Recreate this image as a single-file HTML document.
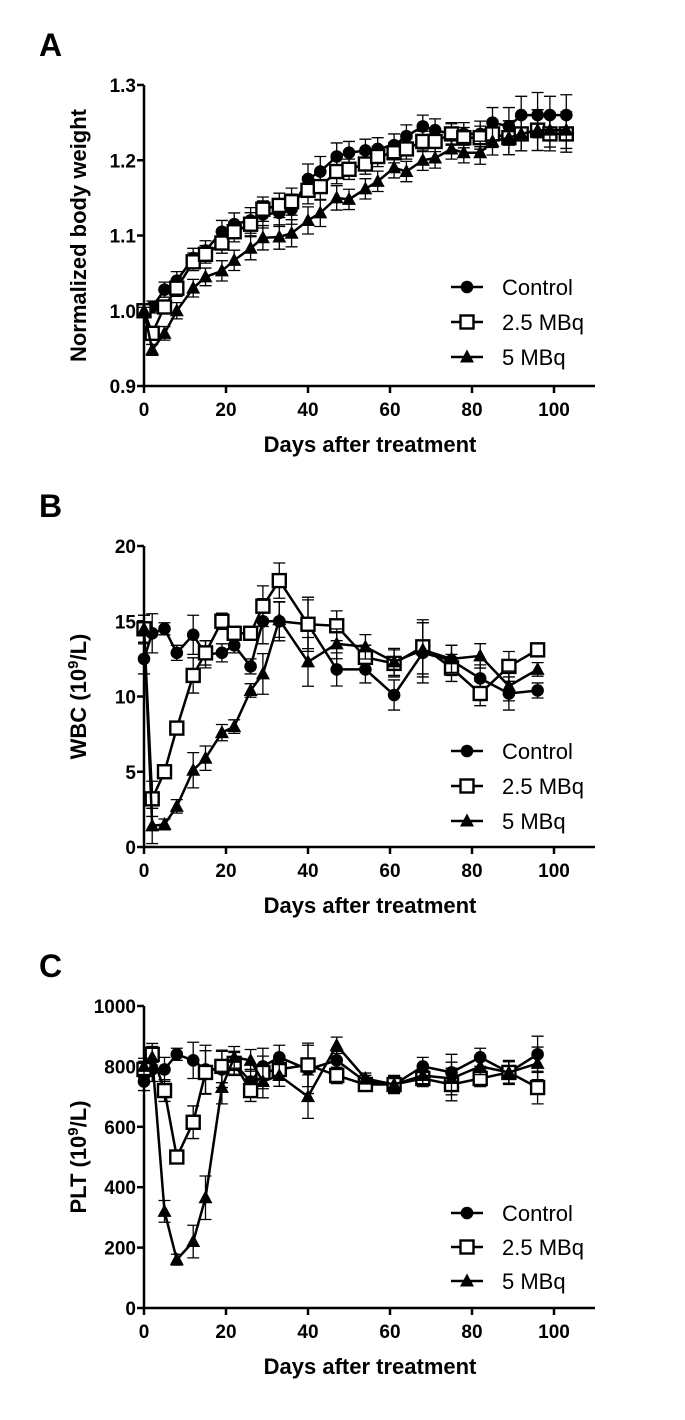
<!DOCTYPE html>
<html><head><meta charset="utf-8">
<style>
html,body{margin:0;padding:0;background:#fff;}
svg{display:block;font-family:"Liberation Sans",Arial,sans-serif;}
</style></head>
<body>
<svg id="fig" width="685" height="1420" viewBox="0 0 685 1420" xmlns="http://www.w3.org/2000/svg"></svg>
<script>
// ---- Panel A data ----
const daysA = [0,2,5,8,12,15,19,22,26,29,33,36,40,43,47,50,54,57,61,64,68,71,75,78,82,85,89,92,96,99,103];
const ctrlA = [1.0,1.005,1.028,1.04,1.07,1.08,1.105,1.115,1.12,1.128,1.13,1.135,1.175,1.185,1.205,1.21,1.213,1.215,1.22,1.232,1.245,1.24,1.235,1.235,1.235,1.25,1.245,1.26,1.26,1.26,1.26];
const midA  = [1.0,0.97,1.005,1.03,1.065,1.075,1.09,1.105,1.115,1.135,1.14,1.145,1.16,1.165,1.185,1.188,1.195,1.205,1.21,1.215,1.225,1.225,1.235,1.23,1.23,1.235,1.23,1.235,1.24,1.235,1.235];
const highA = [1.0,0.948,0.97,1.0,1.03,1.045,1.053,1.067,1.083,1.097,1.098,1.103,1.12,1.13,1.15,1.148,1.162,1.172,1.19,1.185,1.2,1.203,1.215,1.21,1.21,1.225,1.23,1.235,1.24,1.24,1.24];
const errA = [0.005,0.008,0.01,0.012,0.013,0.013,0.015,0.015,0.017,0.018,0.018,0.02,0.02,0.02,0.018,0.015,0.015,0.015,0.015,0.015,0.015,0.015,0.015,0.015,0.017,0.02,0.025,0.025,0.03,0.025,0.027];
const ticksA = ["0.9","1.0","1.1","1.2","1.3"];
// ---- Panel B data ----
const daysBC = [0,2,5,8,12,15,19,22,26,29,33,40,47,54,61,68,75,82,89,96];
const ctrlB = [12.5,14.2,14.5,12.9,14.1,12.8,12.9,13.4,12.0,15.0,15.0,14.8,11.8,11.8,10.1,12.9,12.4,11.2,10.2,10.4];
const midB  = [14.5,3.2,5.0,7.9,11.4,12.9,15.0,14.2,14.2,16.0,17.7,14.8,14.7,12.6,12.2,13.3,11.9,10.2,12.0,13.1];
const highB = [14.5,1.4,1.5,2.7,5.1,5.9,7.6,8.0,10.4,11.5,15.1,12.3,13.5,13.3,12.3,13.1,12.5,12.7,10.7,11.8];
const errB = [1.0,1.3,0.4,0.5,1.3,0.9,0.6,0.5,0.5,1.5,1.3,1.8,1.1,0.9,1.0,2.0,1.0,0.9,1.1,0.5];
const ticksB = ["0","5","10","15","20"];
// ---- Panel C data ----
const ctrlC = [750,790,790,840,820,790,790,810,750,800,830,790,820,750,740,800,780,830,780,840];
const midC  = [790,840,720,500,615,780,800,810,720,780,790,805,770,740,740,760,740,760,780,730];
const highC = [800,830,320,160,220,365,730,830,820,750,770,700,870,760,740,770,760,800,780,810];
const errC = [30,40,40,20,60,80,60,40,40,60,40,80,30,20,30,30,60,30,40,60];
const ticksC = ["0","200","400","600","800","1000"];
const xTicks = ["0","20","40","60","80","100"];

const NS="http://www.w3.org/2000/svg";
const svg=document.getElementById('fig');
function mk(tag,attrs,parent){const e=document.createElementNS(NS,tag);for(const k in attrs)e.setAttribute(k,attrs[k]);(parent||svg).appendChild(e);return e;}

function panel(p){
  const g=mk('g',{});
  
  
  const X0=144,XR=595,pxPerDay=4.1;
  const xs=d=>X0+d*pxPerDay;
  const ys=v=>p.yBot-(v-p.ymin)/(p.ymax-p.ymin)*(p.yBot-p.yTop);
  const L=mk('text',{x:39,y:p.yTop-29,'font-size':32,'font-weight':'bold'},g);L.textContent=p.id;
  
  
  const ax=mk('path',{d:`M${X0},${p.yTop}V${p.yBot}H${XR}`,stroke:'#000','stroke-width':2.5,fill:'none'},g);
  
  
  p.yt.forEach((t,i)=>{
    const v=p.ymin+i*(p.ymax-p.ymin)/(p.yt.length-1);const y=ys(v);
    mk('line',{x1:X0-7,x2:X0,y1:y,y2:y,stroke:'#000','stroke-width':2.5},g);
    const tx=mk('text',{x:X0-8,y:y+7,'font-size':19,'font-weight':'bold','text-anchor':'end'},g);tx.textContent=t;
    
    
  });
  xTicks.forEach((t,i)=>{
    const x=xs(i*20);
    mk('line',{x1:x,x2:x,y1:p.yBot,y2:p.yBot+7,stroke:'#000','stroke-width':2.5},g);
    const tx=mk('text',{x:x,y:p.yBot+30,'font-size':19,'font-weight':'bold','text-anchor':'middle'},g);tx.textContent=t;
    
    
  });
  const xt=mk('text',{x:370,y:p.yBot+66,'font-size':22,'font-weight':'bold','text-anchor':'middle'},g);xt.textContent='Days after treatment';
  
  
  const cy=(p.yTop+p.yBot)/2;
  const yt=mk('text',{x:0,y:0,'font-size':22,'font-weight':'bold','text-anchor':'middle',transform:`translate(86,${cy}) rotate(-90)`},g);
  if(p.sup){yt.innerHTML=p.ylab+' (10<tspan dy="-8" font-size="15">9</tspan><tspan dy="8">/L)</tspan>';}else yt.textContent=p.ylab;
  
  
  const names=['control','2-5-mbq','5-mbq'];
  p.series.forEach((s,si)=>{
    const sg=mk('g',{},g);
    
    
    s.forEach((v,i)=>{
      const x=xs(p.days[i]),e=p.err[i]*(si==0?1:0.9);
      const y1=ys(v+e),y2=ys(v-e);
      mk('path',{d:`M${x},${y1}V${y2}M${x-6},${y1}H${x+6}M${x-6},${y2}H${x+6}`,stroke:'#000','stroke-width':1.3,fill:'none'},sg);
    });
    const d=s.map((v,i)=>(i?'L':'M')+xs(p.days[i]).toFixed(1)+','+ys(v).toFixed(1)).join('');
    mk('path',{d:d,stroke:'#000','stroke-width':2.5,fill:'none'},sg);
    s.forEach((v,i)=>{marker(sg,si,xs(p.days[i]),ys(v));});
  });
  const labs=['Control','2.5 MBq','5 MBq'];
  labs.forEach((l,i)=>{
    const y=p.legY+i*p.legGap;
    const lg=mk('g',{},g);
    
    
    mk('line',{x1:451,x2:483,y1:y,y2:y,stroke:'#000','stroke-width':2.5},lg);
    marker(lg,i,467,y);
    const t=mk('text',{x:502,y:y+8,'font-size':22},lg);t.textContent=l;
  });
}
function marker(g,si,x,y){
  let m;
  if(si==0) m=mk('circle',{cx:x,cy:y,r:6.3,fill:'#000'},g);
  else if(si==1) m=mk('rect',{x:x-6.5,y:y-6.5,width:13,height:13,fill:'#fff',stroke:'#000','stroke-width':2.4},g);
  else m=mk('path',{d:`M${x},${y-7.5}L${x+7},${y+5.5}L${x-7},${y+5.5}Z`,fill:'#000'},g);
  
  
}
panel({id:'A',yTop:85,yBot:386,ymin:0.9,ymax:1.3,yt:ticksA,ylab:'Normalized body weight',days:daysA,series:[ctrlA,midA,highA],err:errA,legY:287,legGap:35});
panel({id:'B',yTop:546,yBot:847,ymin:0,ymax:20,yt:ticksB,ylab:'WBC',sup:true,days:daysBC,series:[ctrlB,midB,highB],err:errB,legY:751,legGap:35});
panel({id:'C',yTop:1006,yBot:1308,ymin:0,ymax:1000,yt:ticksC,ylab:'PLT',sup:true,days:daysBC,series:[ctrlC,midC,highC],err:errC,legY:1213,legGap:34});
</script>
</body></html>
